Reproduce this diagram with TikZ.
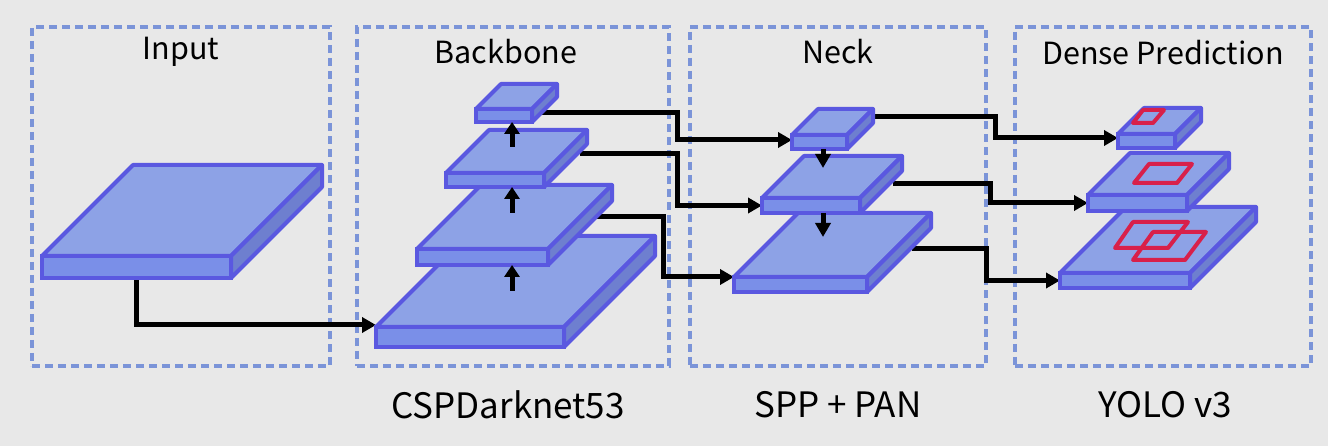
\documentclass[tikz,border=0pt]{standalone}
\usepackage{fontspec}
\setmainfont{Noto Sans CJK KR}
\usepackage{xcolor}
\usetikzlibrary{arrows.meta,positioning}

\definecolor{bgGray}{HTML}{E8E8E8}
\definecolor{boxBlue}{HTML}{7B94D8}
\definecolor{slabEdge}{HTML}{5A58E0}
\definecolor{slabTop}{HTML}{8DA2E6}
\definecolor{slabFront}{HTML}{7A8FE8}
\definecolor{slabSide}{HTML}{6E7FCF}
\definecolor{boxRed}{HTML}{D8204A}

\pgfdeclarelayer{bg}
\pgfsetlayers{bg,main}

\tikzset{
  groupbox/.style={draw=boxBlue, line width=4pt, dash pattern=on 8pt off 5pt, outer sep=0pt, inner sep=0pt},
  title/.style={font=\fontsize{30.5}{36}\selectfont},
  caption/.style={font=\fontsize{35}{42}\selectfont},
  slabtop/.style={draw=slabEdge, fill=slabTop, line width=4pt, line join=round},
  slabside/.style={draw=slabEdge, fill=slabSide, line width=4pt, line join=round},
  slabfront/.style={draw=slabEdge, fill=slabFront, line width=4pt, inner sep=0pt, outer sep=0pt},
  link/.style={line width=5pt, -{Triangle[width=15pt,length=14pt]}},
  uplink/.style={line width=5pt, {Triangle[width=15pt,length=12pt]}-},
  anchorbox/.style={draw=boxRed, line width=4pt, line join=round}
}

% slab: name, x, y (front top left), width, thickness, depth
\newcommand{\slab}[6]{%
  \draw[slabtop] (#2,#3) -- ++(#6,-#6) -- ++(#4,0) -- ++(-#6,#6) -- cycle;
  \draw[slabside] (#2+#4,#3) -- ++(#6,-#6) -- ++(0,#5) -- ++(-#6,#6) -- cycle;
  \node[slabfront, minimum width=#4pt, minimum height=#5pt, anchor=north west] (#1) at (#2,#3) {};
}

\begin{document}
\begin{tikzpicture}[x=1pt, y=-1pt]

\begin{pgfonlayer}{bg}
\fill[bgGray] (0,0) rectangle (1328,446);
\end{pgfonlayer}
\useasboundingbox (0,0) rectangle (1328,446);

% group frames
\begin{pgfonlayer}{bg}
\node[groupbox, minimum width=298pt, minimum height=339pt, anchor=north west] (gIn) at (32,27) {};
\node[groupbox, minimum width=312pt, minimum height=339pt, anchor=north west] (gBb) at (357,27) {};
\node[groupbox, minimum width=296pt, minimum height=339pt, anchor=north west] (gNk) at (690,27) {};
\node[groupbox, minimum width=296pt, minimum height=339pt, anchor=north west] (gDp) at (1015,27) {};
\end{pgfonlayer}

\node[title] (tIn) at ([yshift=-25pt]gIn.north) {Input};
\node[title] (tBb) at ([xshift=-7pt,yshift=-25pt]gBb.north) {Backbone};
\node[title] (tNk) at ([yshift=-25pt]gNk.north) {Neck};
\node[title] (tDp) at ([yshift=-26pt]gDp.north) {Dense Prediction};

\node[caption] (cBb) at ([xshift=-5pt,yshift=-39pt]gBb.south) {CSPDarknet53};
\node[caption] (cNk) at ([yshift=-39pt]gNk.south) {SPP + PAN};
\node[caption] (cDp) at ([xshift=2pt,yshift=-39pt]gDp.south) {YOLO v3};

% input
\slab{in}{42}{256}{189}{22}{91}

% backbone
\slab{bb1}{376}{327}{188}{20}{91}
\slab{bb2}{417}{249}{131}{16}{64}
\slab{bb3}{446}{173}{98}{14}{43}
\slab{bb4}{476}{109}{56}{13}{25}

% neck
\slab{nk1}{734}{277}{133}{15}{64}
\slab{nk2}{762}{198}{98}{15}{42}
\slab{nk3}{792}{135}{55}{14}{26}

% dense prediction
\slab{dp1}{1060}{273}{130}{15}{66}
\slab{dp2}{1088}{195}{99}{16}{42}
\slab{dp3}{1118}{134}{57}{14}{26}

% anchor boxes
\draw[anchorbox] ([shift={(15,-11)}]dp3.north west) -- ++(20,0) -- ++(11,-13) -- ++(-21,0) -- cycle;
\draw[anchorbox] ([shift={(46,-12)}]dp2.north west) -- ++(43,0) -- ++(15,-19) -- ++(-43,0) -- cycle;
\draw[anchorbox] ([shift={(55,-25)}]dp1.north west) -- ++(53,0) -- ++(20,-26) -- ++(-55,0) -- cycle;
\draw[anchorbox] ([shift={(73,-13)}]dp1.north west) -- ++(52,0) -- ++(21,-28) -- ++(-53,0) -- cycle;

% up / down arrows
\draw[uplink] ([xshift=8pt]bb4.south) -- ++(0,25);
\draw[uplink] ([xshift=17pt]bb3.south) -- ++(0,26);
\draw[uplink] ([xshift=29.5pt]bb2.south) -- ++(0,26);
\draw[link] ([xshift=3.5pt]nk3.south) -- ++(0,19);
\draw[link] ([xshift=12pt]nk2.south) -- ++(0,24);

% connectors
\begin{pgfonlayer}{bg}
\draw[link] (in.south) |- ([yshift=12pt]bb1.west);
\draw[link] ([yshift=2.5pt]bb4.east) -- ++(145,0) |- ([yshift=2pt]nk3.west);
\draw[link] ([xshift=36pt,yshift=26pt]bb3.east) -- ++(97,0) |- (nk2.west);
\draw[link] ([xshift=41pt,yshift=40pt]bb2.east) -- ++(74,0) |- ([yshift=7.5pt]nk1.west);
\draw[link] ([xshift=25pt,yshift=25pt]nk3.east) -- ++(123,0) |- ([yshift=3pt]dp3.west);
\draw[link] ([xshift=33pt,yshift=21.5pt]nk2.east) -- ++(97,0) |- (dp2.west);
\draw[link] ([xshift=45pt,yshift=35.5pt]nk1.east) -- ++(74,0) |- (dp1.west);
\end{pgfonlayer}

\end{tikzpicture}
\end{document}
